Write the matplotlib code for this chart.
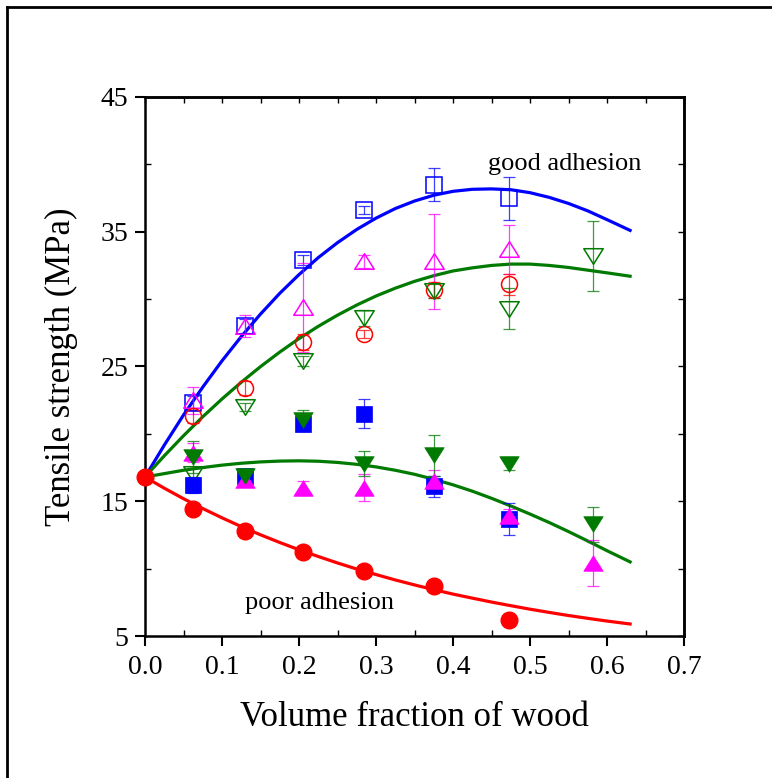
import matplotlib
matplotlib.use("Agg")
import matplotlib.pyplot as plt
from matplotlib.lines import Line2D
from matplotlib.path import Path
from matplotlib.ticker import MultipleLocator

plt.rcParams['font.family'] = ['Liberation Serif', 'DejaVu Serif']

# ---- data ----
x6 = [0.062, 0.13, 0.205, 0.285, 0.375, 0.473]
x7 = [0.062, 0.13, 0.205, 0.285, 0.375, 0.473, 0.582]
x_red = [0.0, 0.062, 0.13, 0.205, 0.285, 0.375, 0.473]

sq_open = [22.3, 28.0, 32.9, 36.6, 38.5, 37.5]
sq_open_err = [0.5, 0.5, 0.4, 0.3, 1.2, 1.6]
tri_open = [22.5, 28.0, 29.4, 32.8, 32.8, 33.7]
tri_open_err = [1.0, 0.8, 3.3, 0.5, 3.5, 1.8]
circ_open = [21.3, 23.4, 26.8, 27.4, 30.7, 31.1]
circ_open_err = [0.5, 0.5, 0.6, 0.3, 0.6, 0.8]
dtri_open = [17.0, 22.0, 25.4, 28.6, 30.6, 29.3, 33.2]
dtri_open_err = [0.5, 0.3, 0.4, 0.6, 0.5, 1.5, 2.6]

sq_fill = [16.2, 16.9, 20.7, 21.5, 16.1, 13.7]
sq_fill_err = [0.6, 0.4, 0.4, 1.1, 0.8, 1.2]
tri_fill = [18.6, 16.6, 16.0, 16.0, 16.5, 13.9, 10.4]
tri_fill_err = [0.7, 0.5, 0.5, 1.0, 0.8, 0.5, 1.7]
dtri_fill = [18.3, 16.9, 21.0, 17.8, 18.4, 17.8, 13.3]
dtri_fill_err = [1.2, 0.4, 0.8, 0.9, 1.5, 0.5, 1.3]
circ_fill = [16.8, 14.4, 12.8, 11.2, 9.8, 8.7, 6.2]

# fitted curves
xc = [0.0, 0.025, 0.05, 0.075, 0.1, 0.125, 0.15, 0.175, 0.2, 0.225, 0.25, 0.275,
      0.3, 0.325, 0.35, 0.375, 0.4, 0.425, 0.45, 0.475, 0.5, 0.525, 0.55, 0.575,
      0.6, 0.63]
curve_blue = [16.8, 19.16, 21.4, 23.47, 25.42, 27.22, 28.89, 30.43, 31.82, 33.08,
              34.19, 35.17, 36.01, 36.72, 37.28, 37.71, 38.0, 38.15, 38.18, 38.12,
              37.9, 37.55, 37.1, 36.55, 35.9, 35.1]
curve_green_up = [16.8, 18.37, 19.86, 21.27, 22.59, 23.83, 24.99, 26.07, 27.07, 27.98,
                  28.81, 29.56, 30.23, 30.81, 31.32, 31.74, 32.09, 32.32, 32.5, 32.6,
                  32.6, 32.5, 32.35, 32.15, 31.95, 31.7]
curve_green_low = [16.8, 17.05, 17.3, 17.5, 17.68, 17.82, 17.92, 17.98, 18.0, 17.97,
                   17.88, 17.74, 17.55, 17.3, 17.0, 16.63, 16.22, 15.75, 15.22, 14.65,
                   14.05, 13.42, 12.75, 12.05, 11.33, 10.5]
curve_red = [16.8, 15.97, 15.19, 14.46, 13.77, 13.12, 12.51, 11.94, 11.4, 10.9,
             10.42, 9.97, 9.56, 9.16, 8.79, 8.44, 8.11, 7.81, 7.52, 7.25,
             6.99, 6.75, 6.52, 6.31, 6.11, 5.89]

xticks = [0.0, 0.1, 0.2, 0.3, 0.4, 0.5, 0.6, 0.7]
yticks = [5, 15, 25, 35, 45]

BLUE = '#0000ff'
MAG = '#ff00ff'
RED = '#ff0000'
GREEN = '#007a00'

# wide triangles (wider than tall)
UP = Path([(0, 0.8), (-1, -0.8), (1, -0.8), (0, 0.8)],
          [Path.MOVETO, Path.LINETO, Path.LINETO, Path.CLOSEPOLY])
DOWN = Path([(0, -0.8), (-1, 0.8), (1, 0.8), (0, -0.8)],
            [Path.MOVETO, Path.LINETO, Path.LINETO, Path.CLOSEPOLY])

fig = plt.figure(figsize=(7.72, 7.78), dpi=100)
ax = fig.add_axes([145/772, 1 - 636/778, (684-145)/772, (636-97)/778])

# frame around figure (left and top lines visible)
fig.add_artist(Line2D([7/772, 7/772], [0, 1 - 7/778], transform=fig.transFigure, color='black', lw=2))
fig.add_artist(Line2D([7/772, 1], [1 - 7/778, 1 - 7/778], transform=fig.transFigure, color='black', lw=2))

# curves
ax.plot(xc, curve_blue, color=BLUE, lw=2.3, zorder=2)
ax.plot(xc, curve_green_up, color=GREEN, lw=2.3, zorder=2)
ax.plot(xc, curve_green_low, color=GREEN, lw=2.3, zorder=2)
ax.plot(xc, curve_red, color=RED, lw=2.3, zorder=2)

ebkw = dict(capsize=4, elinewidth=0.9, capthick=0.9, ls='none', zorder=3)

def series(x, y, err, marker, color, filled, size):
    ax.errorbar(x, y, yerr=err, ecolor=color, fmt='none', alpha=0.75, **ebkw)
    ax.plot(x, y, ls='none', marker=marker, markersize=size,
            markerfacecolor=color if filled else 'none',
            markeredgecolor=color, markeredgewidth=1.1 if not filled else 0.5, zorder=4)

series(x6, sq_open, sq_open_err, 's', BLUE, False, 11.5)
series(x6, tri_open, tri_open_err, UP, MAG, False, 14)
series(x6, circ_open, circ_open_err, 'o', RED, False, 11.5)
series(x7, dtri_open, dtri_open_err, DOWN, GREEN, False, 14)
series(x6, sq_fill, sq_fill_err, 's', BLUE, True, 11.5)
series(x7, tri_fill, tri_fill_err, UP, MAG, True, 14)
series(x7, dtri_fill, dtri_fill_err, DOWN, GREEN, True, 14)
ax.plot(x_red, circ_fill, ls='none', marker='o', markersize=12,
        markerfacecolor=RED, markeredgecolor=RED, zorder=5, clip_on=False)

ax.text(0.445, 40.0, 'good adhesion', fontsize=19, ha='left', va='center')
ax.text(0.227, 7.45, 'poor adhesion', fontsize=19, ha='center', va='center')

ax.set_xlim(0, 0.7)
ax.set_ylim(5, 45)
ax.set_xticks(xticks)
ax.set_yticks(yticks)
ax.set_xticklabels([f'{v:.1f}' for v in xticks])
ax.set_yticklabels([str(v) for v in yticks])
ax.xaxis.set_minor_locator(MultipleLocator(0.05))
ax.yaxis.set_minor_locator(MultipleLocator(5))
ax.tick_params(which='major', direction='out', length=7, width=1.5, labelsize=20)
ax.tick_params(axis='x', which='major', pad=7)
ax.tick_params(axis='y', which='major', pad=5)
ax.tick_params(which='minor', direction='in', length=4, width=1.0)
for s in ax.spines.values():
    s.set_linewidth(1.8)

# top/right inward ticks
top = ax.secondary_xaxis('top')
top.set_xticks([i * 0.05 for i in range(15)])
top.tick_params(direction='in', length=4, width=1.0, labeltop=False)
top.spines['top'].set_linewidth(1.8)
right = ax.secondary_yaxis('right')
right.set_yticks([5 + 5 * i for i in range(9)])
right.tick_params(direction='in', length=4, width=1.0, labelright=False)
right.spines['right'].set_linewidth(1.8)

ax.set_xlabel('Volume fraction of wood', fontsize=25, labelpad=15)
ax.set_ylabel('Tensile strength (MPa)', fontsize=25, labelpad=16)

fig.savefig('out.png', dpi=100)
